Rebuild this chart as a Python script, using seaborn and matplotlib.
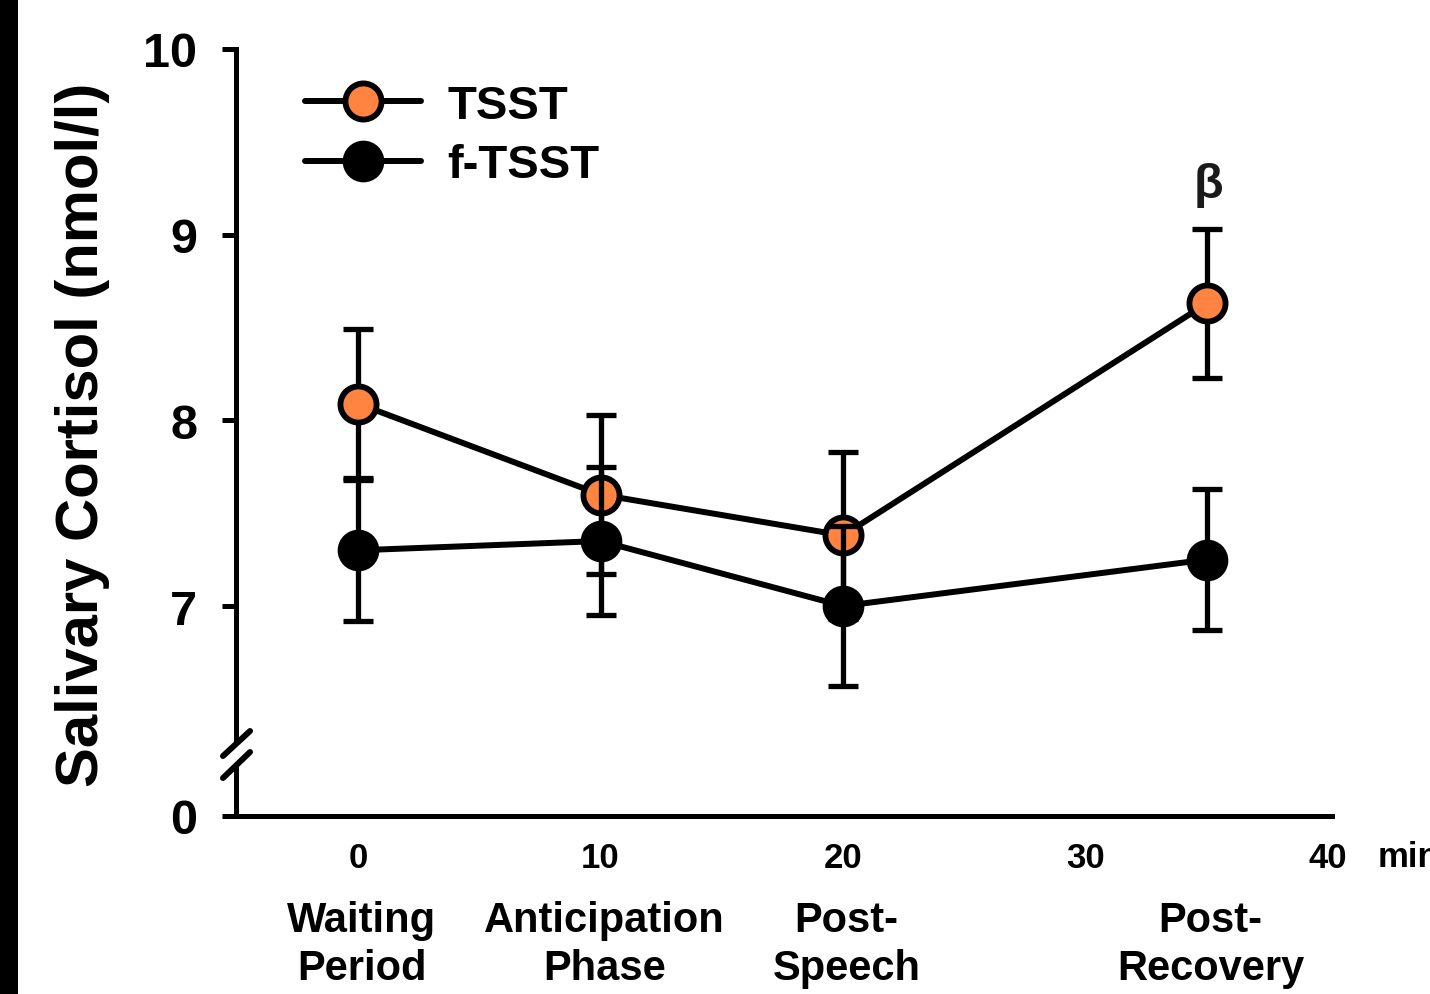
import matplotlib
matplotlib.use("Agg")
import matplotlib.pyplot as plt
import matplotlib.transforms as mtransforms
from matplotlib.patches import Rectangle
import seaborn as sns
import pandas as pd

# ---- data ----
time_min = [0, 10, 20, 35]
phases = ["Waiting\nPeriod", "Anticipation\nPhase", "Post-\nSpeech", "Post-\nRecovery"]
tsst_mean = [8.09, 7.60, 7.38, 8.63]
tsst_sem = [0.40, 0.43, 0.45, 0.40]
ftsst_mean = [7.30, 7.35, 7.00, 7.25]
ftsst_sem = [0.38, 0.40, 0.43, 0.38]
x_ticks = [0, 10, 20, 30, 40]
y_ticks = [5.869, 7, 8, 9, 10]
y_ticklabels = ["0", "7", "8", "9", "10"]
group_names = ["TSST", "f-TSST"]
face_colors = ["#FF8441", "black"]

sns.set_style("ticks")
plt.rcParams["font.family"] = ["Liberation Sans", "DejaVu Sans"]
plt.rcParams["font.weight"] = "bold"
plt.rcParams["text.color"] = "black"
plt.rcParams["axes.labelcolor"] = "black"
plt.rcParams["xtick.color"] = "black"
plt.rcParams["ytick.color"] = "black"
plt.rcParams["axes.edgecolor"] = "black"

fig = plt.figure(figsize=(14.30, 9.95), dpi=100)
ax = fig.add_axes([236/1430, 1-817/995, (1332-236)/1430, (817-50)/995])

series = [(tsst_mean, tsst_sem), (ftsst_mean, ftsst_sem)]
marker_sizes = [26, 27]
edge_widths = [4.2, 3]
for i, (name, (m, s)) in enumerate(zip(group_names, series)):
    df = pd.DataFrame({"time": time_min, "cortisol": m})
    base = 3 + 3 * i
    ax.errorbar(time_min, m, yerr=s, fmt="none", ecolor="black", elinewidth=3.8,
                capsize=11, capthick=3.8, zorder=base)
    sns.lineplot(data=df, x="time", y="cortisol", ax=ax, color="black", lw=4.3,
                 marker="o", markersize=marker_sizes[i], markerfacecolor=face_colors[i],
                 markeredgecolor="black", markeredgewidth=edge_widths[i],
                 label=name, zorder=base + 1, clip_on=False)

ax.set_xlim(-5.03, 40.16)
ax.set_ylim(5.869, 10)

ax.set_xticks(x_ticks)
ax.set_xticklabels([str(t) for t in x_ticks])
ax.tick_params(axis="x", length=0, pad=18, labelsize=25, labelcolor="black")
ax.set_yticks(y_ticks)
ax.set_yticklabels(y_ticklabels)
ax.tick_params(axis="y", length=10, width=3.6, pad=18, labelsize=35,
               direction="out", color="black", labelcolor="black")
for lab in ax.get_xticklabels() + ax.get_yticklabels():
    lab.set_fontweight("bold")

sns.despine(ax=ax)
for sp in ["left", "bottom"]:
    ax.spines[sp].set_linewidth(3.6)
    ax.spines[sp].set_color("black")

ax.set_xlabel("")
ax.set_ylabel("Salivary Cortisol (nmol/l)", fontsize=43, fontweight="bold", color="black")
ax.yaxis.set_label_coords(-0.115, 0.498)

# axis break on y axis
ax.plot([0, 0], [0.064, 0.094], transform=ax.transAxes, color="white", lw=7,
        clip_on=False, zorder=10, solid_capstyle="butt")
ax.plot([-0.0119, 0.0128], [0.0782, 0.1108], transform=ax.transAxes, color="black",
        lw=4.3, clip_on=False, zorder=11)
ax.plot([-0.0119, 0.0128], [0.0495, 0.0834], transform=ax.transAxes, color="black",
        lw=4.3, clip_on=False, zorder=11)

# phase labels
trans = mtransforms.blended_transform_factory(ax.transData, ax.transAxes)
for t, p in zip(time_min, phases):
    ax.text(t + 0.15, -0.110, p, transform=trans, ha="center", va="top",
            fontsize=30, fontweight="bold", linespacing=1.26, clip_on=False)
ax.text(42.06, -0.031, "min", transform=trans, ha="left", va="top",
        fontsize=25, fontweight="bold", clip_on=False)

# significance marker
ax.text(35.05, 9.27, "β", ha="center", va="center", fontsize=35,
        fontweight="bold", color="#1a1a1a")

leg = ax.legend(loc="upper left", bbox_to_anchor=(0.063, 0.955), frameon=False,
                fontsize=34, handlelength=2.45, handletextpad=0.57,
                labelspacing=0.33, borderpad=0, borderaxespad=0)
for txt in leg.get_texts():
    txt.set_fontweight("bold")
    txt.set_color("black")

fig.add_artist(Rectangle((0, 0), 18/1430, 1, transform=fig.transFigure,
                         facecolor="black", edgecolor="none"))

fig.savefig("out.png", dpi=100)
